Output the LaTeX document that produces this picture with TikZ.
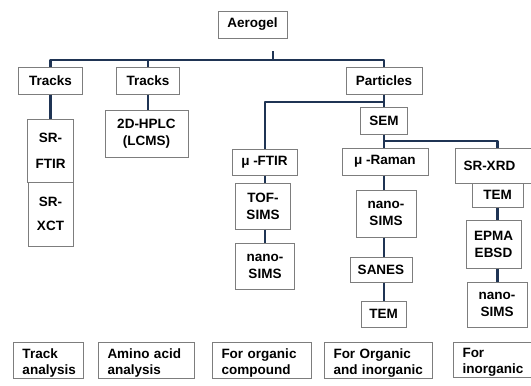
\documentclass[tikz,border=0pt]{standalone}
\usepackage{fontspec}
\setmainfont{Liberation Sans}
\usetikzlibrary{positioning}
\definecolor{navy}{RGB}{31,52,84}
\definecolor{boxgray}{RGB}{125,125,125}

\begin{document}
\begin{tikzpicture}[x=1pt,y=-1pt,node distance=8pt,
    box/.style={rectangle,draw=boxgray,line width=1pt,fill=white,inner sep=0pt,align=center,font=\fontsize{13.5}{17}\selectfont\bfseries},
    note/.style={box,anchor=north west,align=left,inner xsep=9pt,inner ysep=6pt,text depth=14pt,font=\fontsize{13.5}{16}\selectfont\bfseries},
    link/.style={draw=navy,line width=2.6pt,line join=round}]

    \clip (0,0) rectangle (531,386);
    \fill[white] (0,0) rectangle (531,386);

    % top levels
    \node[box,minimum width=69pt,minimum height=27pt] (aerogel) at (252.5,24.5) {Aerogel};
    \node[box,minimum width=64pt,minimum height=27pt] (tracksA) at (50.5,80.5) {Tracks};
    \node[box,minimum width=63pt,minimum height=27pt] (tracksB) at (148,80.5) {Tracks};
    \node[box,minimum width=76pt,minimum height=27pt] (particles) at (384,80.5) {Particles};

    % track columns
    \node[box,minimum width=46pt,minimum height=63pt] (srftir) at (50.5,150.5) {SR-\\[9pt]FTIR};
    \node[box,minimum width=45pt,minimum height=64pt] (srxct) at (50.5,214) {SR-\\[7pt]XCT};
    \node[box,minimum width=83pt,minimum height=47pt] (hplc) at (146.5,133.5) {2D-HPLC\\(LCMS)};

    % particle branches
    \node[box,minimum width=47pt,minimum height=27pt] (sem) at (384,120.5) {SEM};
    \node[box,minimum width=65pt,minimum height=26pt] (muftir) at (264.5,162) {μ -FTIR};
    \node[box,minimum width=55pt,minimum height=46pt] (tofsims) at (263,206) {TOF-\\SIMS};
    \node[box,minimum width=59pt,minimum height=46pt] (nanosimsA) at (265,266) {nano-\\SIMS};

    \node[box,minimum width=86pt,minimum height=27pt] (muraman) at (385,161.5) {μ -Raman};
    \node[box,minimum width=60pt,minimum height=47pt] (nanosimsB) at (386,213.5) {nano-\\SIMS};
    \node[box,minimum width=62pt,minimum height=25pt] (sanes) at (381,269.5) {SANES};
    \node[box,minimum width=45pt,minimum height=26pt] (temB) at (383.5,314) {TEM};

    \node[box,anchor=west,align=left,text width=76pt,inner xsep=8pt,minimum height=35pt] (srxrd) at (455,165.5) {SR-XRD};
    \node[box,minimum width=51pt,minimum height=24pt] (temC) at (497.5,195) {TEM};
    \node[box,minimum width=55pt,minimum height=48pt] (epma) at (493.5,244) {EPMA\\EBSD};
    \node[box,minimum width=60pt,minimum height=45pt] (nanosimsC) at (497,304.5) {nano-\\SIMS};

    % purposes
    \node[note,text width=52pt] (trackuse) at (13,342) {Track\\analysis};
    \node[note,text width=78pt] (aminouse) at (98,342) {Amino acid\\analysis};
    \node[note,text width=81pt] (orguse) at (212,342) {For organic\\compound};
    \node[note,text width=90pt] (bothuse) at (324,342) {For Organic\\and inorganic};
    \node[note,text width=90pt] (inorguse) at (453,342) {For\\inorganic};

    % connectors
    \coordinate (stem) at (273,51);
    \coordinate (bus) at (0,60);
    \coordinate (split) at (0,102);
    \coordinate (splitB) at (0,141);
    \draw[link] (stem) -- (stem |- bus);
    \draw[link] (tracksA.north) -- (tracksA.north |- bus) -- (particles.north |- bus) -- (particles.north);
    \draw[link] (tracksB.north) -- (tracksB.north |- bus);

    \draw[link] (tracksA.south) -- (srftir.north);
    \draw[link] (tracksB.south) -- (tracksB.south |- hplc.north);

    \draw[link] (particles.south) -- (sem.north);
    \draw[link] (muftir.north -| nanosimsA) -- (nanosimsA |- split) -- (particles.south |- split);
    \draw[link] (sem.south) -- (sem.south |- muraman.north);
    \draw[link] (sem.south |- splitB) -- (splitB -| temC) -- (srxrd.north -| temC);

    \draw[link] (muftir.south -| nanosimsA) -- (tofsims.north -| nanosimsA);
    \draw[link] (tofsims.south -| nanosimsA) -- (nanosimsA.north);
    \draw[link] (muraman.south -| sem) -- (nanosimsB.north -| sem);
    \draw[link] (nanosimsB.south -| sem) -- (sanes.north -| sem);
    \draw[link] (sanes.south -| sem) -- (temB.north -| sem);
    \draw[link] (temC.south) -- (epma.north -| temC);
    \draw[link] (epma.south -| temC) -- (nanosimsC.north -| temC);
\end{tikzpicture}
\end{document}
